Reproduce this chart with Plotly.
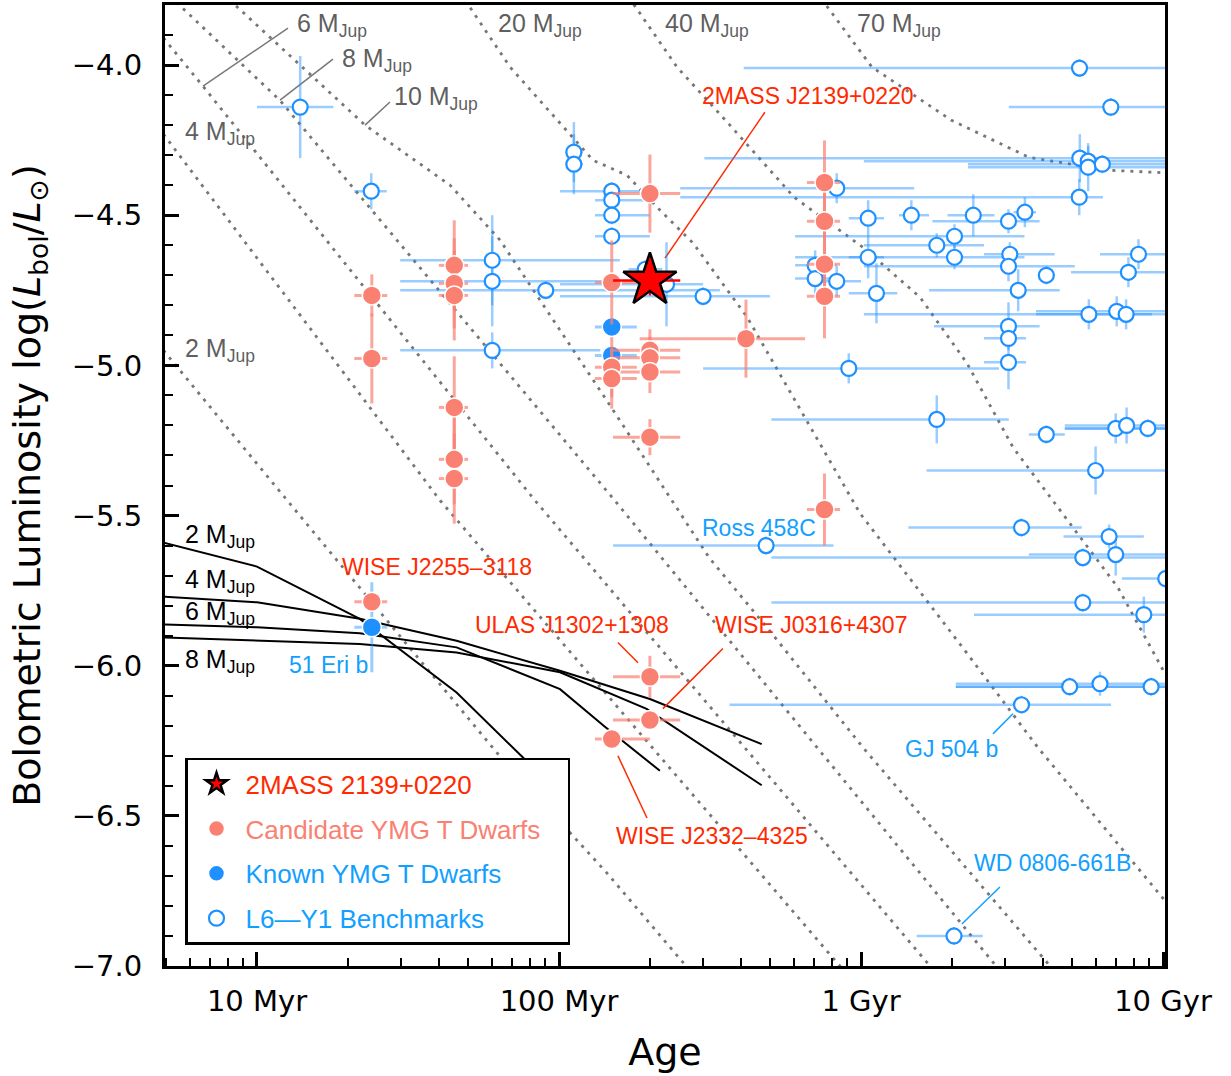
import numpy as np
import plotly.graph_objects as go

# ---------------- dotted mass tracks (age [Myr], log L) ----------------
m2_age = [4.9, 12.6, 62.3, 144, 320]
m2_L = [-4.95, -5.45, -6.29, -6.69, -7.10]
m4_age = [4.9, 40.4, 851, 1000]
m4_L = [-4.23, -5.45, -7.00, -7.09]
m6_age = [4.9, 6.62, 83.3, 1692, 2000]
m6_L = [-3.91, -4.07, -5.45, -7.00, -7.07]
m8_age = [4.9, 11.9, 153, 2800, 3500]
m8_L = [-3.75, -4.117, -5.45, -7.00, -7.10]
m10_age = [6.0, 8.46, 22.8, 43.6, 63.8, 144, 314, 507, 1016, 4227, 5000]
m10_L = [-3.66, -3.80, -4.20, -4.40, -4.583, -5.117, -5.64, -5.893, -6.273, -7.00, -7.06]
m20_age = [40.4, 68.9, 100.7, 129.6, 168, 211, 278, 420, 993, 2210, 3855, 10160, 12000]
m20_L = [-3.66, -4.007, -4.193, -4.317, -4.367, -4.473, -4.593, -4.84, -5.493, -5.95, -6.273, -6.783, -6.86]
m40_age = [140, 177, 246, 368, 600, 1016, 1568, 2244, 3186, 7093, 10160, 12000]
m40_L = [-3.65, -3.80, -4.007, -4.20, -4.44, -4.607, -4.773, -4.993, -5.273, -5.74, -6.027, -6.12]
m70_age = [628, 766, 1087, 1986, 3597, 6531, 10160, 12000]
m70_L = [-3.683, -3.80, -4.007, -4.183, -4.307, -4.35, -4.36, -4.362]

# ---------------- black solid tracks ----------------
k2_age = [4.9, 10, 21.9, 45.8, 76, 100]
k2_L = [-5.59, -5.67, -5.844, -6.089, -6.306, -6.42]
k4_age = [4.9, 10, 21.9, 45.8, 100.8, 200, 469]
k4_L = [-5.77, -5.789, -5.844, -5.917, -6.017, -6.111, -6.261]
k6_age = [4.9, 10, 21.9, 45.8, 100.8, 141.9, 215.8]
k6_L = [-5.863, -5.872, -5.892, -5.939, -6.078, -6.203, -6.35]
k8_age = [4.9, 10, 21.9, 45.8, 100.8, 195, 469]
k8_L = [-5.906, -5.917, -5.928, -5.956, -6.022, -6.144, -6.398]

# ---------------- L6-Y1 benchmarks ----------------
bm_age = [13.9, 23.9, 112, 112, 149.5, 149.5, 149.5, 149.5, 60.1, 60.1, 90.4, 60.1, 227, 300, 193,
          831, 705, 705, 831, 1056, 1468, 2354, 3079, 3489, 5279, 5303, 5652, 5652, 6295, 5291, 6717,
          1056, 1782, 2040, 2040, 3110, 3079, 4108, 3315, 1125, 8296, 7681, 5682, 7026, 7548,
          3079, 3079, 3079, 911, 1782, 4108, 6973, 7577, 8908, 5981, 3400, 6630, 485, 5425, 6973,
          10209, 5425, 8640, 4909, 6185, 9134, 3400, 2032]
bm_L = [-4.14, -4.42, -4.29, -4.33, -4.42, -4.45, -4.50, -4.57, -4.65, -4.72, -4.75, -4.95, -4.73, -4.77, -4.68,
        -4.41, -4.667, -4.711, -4.72, -4.51, -4.50, -4.50, -4.52, -4.49, -4.44, -4.31, -4.32, -4.34, -4.33, -4.01, -4.14,
        -4.64, -4.60, -4.57, -4.64, -4.63, -4.67, -4.70, -4.75, -4.76, -4.63, -4.69, -4.83, -4.82, -4.83,
        -4.87, -4.91, -4.99, -5.01, -5.18, -5.23, -5.21, -5.20, -5.21, -5.35, -5.54, -5.57, -5.60, -5.64, -5.63,
        -5.71, -5.79, -5.83, -6.07, -6.06, -6.07, -6.13, -6.90]
bm_age_lo = [10.0, 21.0, 105, 105, 100.8, 131.6, 131.6, 131.6, 29.8, 29.8, 29.8, 29.8, 100.8, 100.8, 170,
             252, 605, 605, 705, 911, 1336, 1934, 1723, 3200, 252, 303, 1022, 2261, 2261, 409, 3086,
             911, 1022, 605, 605, 2555, 1022, 3903, 1680, 911, 6185, 4959, 1022, 3797, 3797,
             1744, 2555, 2555, 300, 505, 3595, 4729, 4729, 4729, 1649, 1435, 4683, 151, 505, 3595,
             7311, 505, 2367, 2060, 2060, 2060, 367, 1529]
bm_age_hi = [17.9, 26.9, 120, 120, 200, 200, 200, 200, 159, 159, 341, 137, 300, 500, 220,
             1500, 831, 831, 1000, 1192, 1680, 2765, 3903, 3800, 6328, 13000, 13000, 13000, 13000, 13000, 13000,
             1192, 2555, 3478, 3478, 4379, 5105, 4379, 4549, 1319, 13000, 13000, 9190, 13000, 13000,
             3903, 3519, 3519, 2864, 3086, 4729, 13000, 13000, 13000, 13000, 5384, 8640, 811, 13000, 13000,
             13000, 13000, 13000, 13000, 13000, 13000, 6727, 2529]
bm_L_err = [0.17, 0.06, 0.10, 0.10, 0.03, 0.03, 0.03, 0.03, 0.15, 0.15, 0.03, 0.06, 0.14, 0.03, 0.03,
            0.05, 0.05, 0.05, 0.05, 0.06, 0.05, 0.07, 0.04, 0.05, 0.06, 0.08, 0.05, 0.08, 0.03, 0.03, 0.03,
            0.07, 0.04, 0.04, 0.04, 0.04, 0.05, 0.03, 0.07, 0.10, 0.05, 0.05, 0.05, 0.05, 0.05,
            0.08, 0.03, 0.09, 0.05, 0.08, 0.03, 0.05, 0.06, 0.03, 0.08, 0.03, 0.04, 0.03, 0.03, 0.07,
            0.03, 0.03, 0.06, 0.03, 0.04, 0.03, 0.03, 0.03]

# ---------------- candidate YMG T dwarfs ----------------
cd_age = [24, 24, 45, 45, 45, 45, 45, 45, 149.5, 149.5, 149.5, 200, 200, 200, 200, 200, 416,
          757, 757, 757, 757, 757, 24, 200, 200, 149.5]
cd_L = [-4.767, -4.977, -4.667, -4.727, -4.767, -5.14, -5.313, -5.377, -4.724, -5.006, -5.044,
        -4.428, -4.95, -4.975, -5.022, -5.239, -4.911, -4.391, -4.52, -4.663, -4.77, -5.48,
        -5.787, -6.037, -6.181, -6.244]
cd_age_lo = [21, 21, 40, 40, 40, 40, 40, 40, 131.5, 131.5, 131.5, 151, 151, 151, 151, 151, 185,
             662, 662, 662, 662, 662, 21, 151, 151, 131.5]
cd_age_hi = [27, 27, 50, 50, 50, 50, 50, 50, 181, 181, 181, 252, 252, 252, 252, 252, 653,
             852, 852, 852, 852, 852, 27, 252, 252, 200]
cd_L_err = [0.07, 0.15, 0.15, 0.15, 0.15, 0.17, 0.15, 0.15, 0.14, 0.10, 0.10, 0.13, 0.07, 0.07, 0.07, 0.06,
            0.13, 0.14, 0.14, 0.14, 0.14, 0.12, 0.03, 0.07, 0.03, 0.03]

# ---------------- known YMG T dwarfs ----------------
kn_age = [149.5, 149.5, 24]
kn_L = [-4.872, -4.967, -5.872]
kn_age_lo = [131.5, 131.5, 21]
kn_age_hi = [181, 181, 27]
kn_L_err = [0.03, 0.03, 0.15]

# ---------------- 2MASS J2139+0220 ----------------
st_age = [200]
st_L = [-4.717]
st_age_lo = [151]
st_age_hi = [252]
st_L_err = [0.05]

# ---------------- ticks ----------------
x_tickvals = [10, 100, 1000, 10000]
x_ticktext = ['10 Myr', '100 Myr', '1 Gyr', '10 Gyr']
y_tickvals = [-4.0, -4.5, -5.0, -5.5, -6.0, -6.5, -7.0]
y_ticktext = ['\u22124.0', '\u22124.5', '\u22125.0', '\u22125.5', '\u22126.0', '\u22126.5', '\u22127.0']

# ---------------- text labels: (text, age, logL) ----------------
grey_labels = [('6 M<sub>Jup</sub>', 13.36, -3.867), ('8 M<sub>Jup</sub>', 18.83, -3.983),
               ('10 M<sub>Jup</sub>', 27.99, -4.11), ('4 M<sub>Jup</sub>', 5.69, -4.227),
               ('2 M<sub>Jup</sub>', 5.69, -4.95), ('20 M<sub>Jup</sub>', 61.85, -3.867),
               ('40 M<sub>Jup</sub>', 221, -3.867), ('70 M<sub>Jup</sub>', 955, -3.867)]
black_labels = [('2 M<sub>Jup</sub>', 5.69, -5.567), ('4 M<sub>Jup</sub>', 5.69, -5.717),
                ('6 M<sub>Jup</sub>', 5.69, -5.823), ('8 M<sub>Jup</sub>', 5.69, -5.983)]
red_labels = [('2MASS J2139+0220', 293, -4.103), ('WISE J2255\u20133118', 18.83, -5.67),
              ('ULAS J1302+1308', 51.9, -5.863), ('WISE J0316+4307', 323.6, -5.863),
              ('WISE J2332\u20134325', 152.1, -6.567)]
blue_labels = [('Ross 458C', 293, -5.54), ('51 Eri b', 12.57, -5.997),
               ('GJ 504 b', 1377, -6.277), ('WD 0806-661B', 2331, -6.657)]
grey_leaders = [([12.67, 6.625], [-3.877, -4.07]), ([17.85, 11.92], [-3.98, -4.117]),
                ([27.56, 22.79], [-4.123, -4.2])]
red_leaders = [([224.4, 480.5], [-4.643, -4.157]), ([156.7, 182.7], [-5.923, -5.99]),
               ([349, 220.8], [-5.943, -6.143]), ([156.7, 195.6], [-6.3, -6.507])]
blue_leaders = [([2735, 3186], [-6.227, -6.16]), ([2884, 2158], [-6.737, -6.86])]

# ---------------- styling ----------------
DOT = 'rgb(118,118,118)'
RED = '#FF2A00'
SALMON = '#FA8072'
BLUE = '#1E90FF'
BLUE_TXT = '#12A0FF'
LBLUE = 'rgba(30,144,255,0.45)'
LSALMON = 'rgba(250,128,114,0.7)'
TXT_FONT = 'Liberation Sans, Arial, sans-serif'
AX_FONT = 'DejaVu Sans, sans-serif'
NB = '\u00a0'

fig = go.Figure()

for a, l in [(m2_age, m2_L), (m4_age, m4_L), (m6_age, m6_L), (m8_age, m8_L), (m10_age, m10_L),
             (m20_age, m20_L), (m40_age, m40_L), (m70_age, m70_L)]:
    fig.add_trace(go.Scatter(x=a, y=l, mode='lines', showlegend=False, hoverinfo='skip',
                             line=dict(color=DOT, width=2.8, dash='3px,6px')))

for a, l in [(k2_age, k2_L), (k4_age, k4_L), (k6_age, k6_L), (k8_age, k8_L)]:
    fig.add_trace(go.Scatter(x=a, y=l, mode='lines', showlegend=False, hoverinfo='skip',
                             line=dict(color='black', width=2)))

for xs, ys in grey_leaders:
    fig.add_trace(go.Scatter(x=xs, y=ys, mode='lines', showlegend=False, hoverinfo='skip',
                             line=dict(color='rgb(120,120,120)', width=1.5)))
for xs, ys in red_leaders:
    fig.add_trace(go.Scatter(x=xs, y=ys, mode='lines', showlegend=False, hoverinfo='skip',
                             line=dict(color=RED, width=1.5)))
for xs, ys in blue_leaders:
    fig.add_trace(go.Scatter(x=xs, y=ys, mode='lines', showlegend=False, hoverinfo='skip',
                             line=dict(color=BLUE_TXT, width=1.5)))


def errs(age, lo, hi):
    age = np.array(age, float)
    return list(age - np.array(lo, float)), list(np.array(hi, float) - age)


bm_m, bm_p = errs(bm_age, bm_age_lo, bm_age_hi)
fig.add_trace(go.Scatter(
    x=bm_age, y=bm_L, mode='markers', name=f"<span style='color:{BLUE_TXT}'>L6\u2014Y1 Benchmarks</span>",
    legendgroup='d', legendrank=4,
    marker=dict(symbol='circle', size=15, color='white', line=dict(color=BLUE, width=2.2)),
    error_x=dict(type='data', symmetric=False, array=bm_p, arrayminus=bm_m, color=LBLUE, thickness=2.5, width=0),
    error_y=dict(type='data', array=bm_L_err, color=LBLUE, thickness=2.5, width=0)))

kn_m, kn_p = errs(kn_age, kn_age_lo, kn_age_hi)
fig.add_trace(go.Scatter(
    x=kn_age, y=kn_L, mode='markers', name=f"<span style='color:{BLUE_TXT}'>Known YMG T Dwarfs</span>",
    legendgroup='c', legendrank=3,
    marker=dict(symbol='circle', size=19, color=BLUE, line=dict(color='white', width=1.5)),
    error_x=dict(type='data', symmetric=False, array=kn_p, arrayminus=kn_m, color=LBLUE, thickness=3, width=0),
    error_y=dict(type='data', array=kn_L_err, color=LBLUE, thickness=3, width=0)))

cd_m, cd_p = errs(cd_age, cd_age_lo, cd_age_hi)
fig.add_trace(go.Scatter(
    x=cd_age, y=cd_L, mode='markers',
    name=f"<span style='color:{SALMON}'>Candidate YMG T Dwarfs{NB * 3}</span>",
    legendgroup='b', legendrank=2,
    marker=dict(symbol='circle', size=19, color=SALMON, line=dict(color='white', width=1.5)),
    error_x=dict(type='data', symmetric=False, array=cd_p, arrayminus=cd_m, color=LSALMON, thickness=3, width=0),
    error_y=dict(type='data', array=cd_L_err, color=LSALMON, thickness=3, width=0)))

st_m, st_p = errs(st_age, st_age_lo, st_age_hi)
fig.add_trace(go.Scatter(
    x=st_age, y=st_L, mode='markers', name=f"<span style='color:{RED}'>2MASS 2139+0220</span>",
    legendgroup='a', legendrank=1,
    marker=dict(symbol='star', size=40, color='red', line=dict(color='black', width=2.5)),
    error_x=dict(type='data', symmetric=False, array=st_p, arrayminus=st_m, color='red', thickness=2.5, width=0),
    error_y=dict(type='data', array=st_L_err, color='red', thickness=2.5, width=0)))

ann = []
for txt, a, l in grey_labels:
    ann.append(dict(text=txt, x=np.log10(a), y=l, xref='x', yref='y', showarrow=False,
                    xanchor='left', yanchor='middle', font=dict(family=TXT_FONT, size=25, color='rgb(95,95,95)')))
for txt, a, l in black_labels:
    ann.append(dict(text=txt, x=np.log10(a), y=l, xref='x', yref='y', showarrow=False,
                    xanchor='left', yanchor='middle', font=dict(family=TXT_FONT, size=25, color='black')))
for txt, a, l in red_labels:
    ann.append(dict(text=txt, x=np.log10(a), y=l, xref='x', yref='y', showarrow=False,
                    xanchor='left', yanchor='middle', font=dict(family=TXT_FONT, size=23, color=RED)))
for txt, a, l in blue_labels:
    ann.append(dict(text=txt, x=np.log10(a), y=l, xref='x', yref='y', showarrow=False,
                    xanchor='left', yanchor='middle', font=dict(family=TXT_FONT, size=23, color=BLUE_TXT)))

minor_x = [m * 10 ** d for d in range(0, 4) for m in range(2, 10)]

fig.update_layout(
    width=1231, height=1076,
    margin=dict(l=165, r=66, t=5, b=110, autoexpand=False),
    plot_bgcolor='white', paper_bgcolor='white',
    annotations=ann,
    showlegend=True,
    legend=dict(x=0.02, y=0.022, xanchor='left', yanchor='bottom', bgcolor='white',
                bordercolor='black', borderwidth=2.5, font=dict(family=TXT_FONT, size=26),
                traceorder='grouped', tracegroupgap=8, itemwidth=48),
    xaxis=dict(type='log', range=[0.6954, 4.0066], tickvals=x_tickvals, ticktext=x_ticktext,
               ticks='inside', ticklen=14, tickwidth=2.5, tickcolor='black', automargin=False,
               showline=True, linewidth=3, linecolor='black', mirror=True,
               showgrid=False, zeroline=False, ticklabelstandoff=7,
               tickfont=dict(family=AX_FONT, size=29, color='black'),
               minor=dict(tickvals=minor_x, ticks='inside', ticklen=8, tickwidth=2, tickcolor='black', showgrid=False),
               title=dict(text='Age', font=dict(family=AX_FONT, size=38, color='black'), standoff=22)),
    yaxis=dict(range=[-7.0, -3.8], tickvals=y_tickvals, ticktext=y_ticktext,
               ticks='inside', ticklen=14, tickwidth=2.5, tickcolor='black', automargin=False,
               showline=True, linewidth=3, linecolor='black', mirror=True,
               showgrid=False, zeroline=False, ticklabelstandoff=14,
               tickfont=dict(family=AX_FONT, size=29, color='black'),
               minor=dict(dtick=0.1, ticks='inside', ticklen=8, tickwidth=2, tickcolor='black', showgrid=False),
               title=dict(text='Bolometric Luminosity log(<i>L</i><sub>bol</sub>/<i>L</i><sub>\u2299</sub>)',
                          font=dict(family=AX_FONT, size=38, color='black'), standoff=20)),
)

fig.write_html('out.html', config={'displayModeBar': False},
               post_script="document.body.style.margin='0px';document.body.style.overflow='hidden';")
